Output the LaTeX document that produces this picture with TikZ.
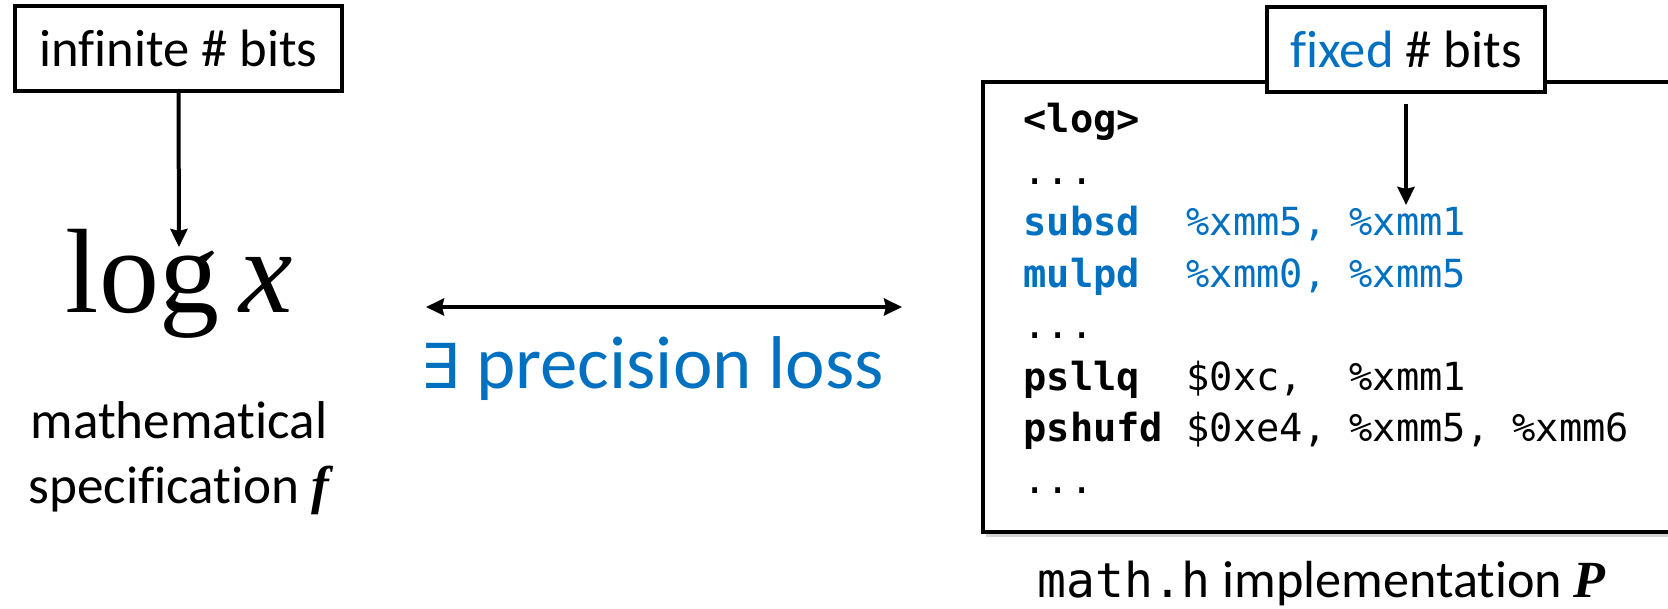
\documentclass[tikz,border=0pt]{standalone}
\usepackage{fontspec}
\setmainfont[Ligatures=NoCommon]{Carlito}
\newfontfamily\codefont{DejaVu Sans Mono}
\newfontfamily\logfont{Liberation Serif}
\newfontfamily\symbolfont{DejaVu Sans}
\usetikzlibrary{arrows.meta,positioning,shadows}
\definecolor{asmblue}{RGB}{0,112,192}
\tikzset{
  bitsbox/.style={draw, line width=1.6pt, fill=white, inner sep=0pt, minimum height=42.5pt, font=\fontsize{26.3}{30}\selectfont},
  codebox/.style={draw, line width=1.8pt, fill=white, drop shadow={shadow xshift=1.5pt, shadow yshift=-2.5pt, opacity=0.35}},
  arr/.style={line width=2pt, -{Stealth[length=9pt,width=8.5pt,inset=1pt]}}
}
\begin{document}
\begin{tikzpicture}[x=0.5pt,y=-0.5pt]
\useasboundingbox (0,0) rectangle (1668,609);
\clip (0,0) rectangle (1668,609);
% left: the mathematical side
\node[bitsbox, minimum width=163.5pt] (inf) at (178.5,48.5) {infinite \# bits};
\node[inner sep=0pt, anchor=base, font=\logfont\fontsize{60}{60}\selectfont] (logx) at (179,312) {log\,\textit{x}};
\node[anchor=base, align=center, inner sep=0pt, font=\fontsize{26.6}{32.5}\selectfont] (spec) at (179,503) {mathematical\\specification {\logfont\bfseries\itshape f}};
\coordinate (logtop) at (179,247);
\draw[arr] (inf.south) -- (logtop);
% middle
\coordinate (pl) at (426,307);
\coordinate (pr) at (902,307);
\draw[line width=2pt, {Stealth[length=9pt,width=8.5pt,inset=1pt]}-{Stealth[length=9pt,width=8.5pt,inset=1pt]}] (pl) -- (pr);
\node[anchor=base, inner sep=0pt, text=asmblue, font=\fontsize{37.4}{40}\selectfont] (loss) at (652,388) {{\symbolfont\fontsize{31}{40}\selectfont ∃} precision loss};
% right: the implementation
\node[codebox, anchor=north west, minimum width=360pt, minimum height=225pt] (impl) at (981,80) {};
\node[bitsbox, minimum width=139pt] (fixed) at (1406,49.5) {\textcolor{asmblue}{fixed} \# bits};
\coordinate (hit) at (1406,205);
\draw[arr] ([yshift=-5pt]fixed.south) -- (hit);
\node[anchor=base west, align=left, inner sep=0pt, font=\codefont\fontsize{19.35}{25.75}\selectfont] (asm) at (1023,493)
  {\textbf{<log>}\\
   ...\\
   \textcolor{asmblue}{\textbf{subsd}~~\%xmm5,~\%xmm1}\\
   \textcolor{asmblue}{\textbf{mulpd}~~\%xmm0,~\%xmm5}\\
   ...\\
   \textbf{psllq}~~\$0xc,~~\%xmm1\\
   \textbf{pshufd}~\$0xe4,~\%xmm5,~\%xmm6\\
   ...};
\node[anchor=base west, inner sep=0pt, font=\fontsize{26.1}{30}\selectfont] (cap) at (1037,597)
  {{\codefont\fontsize{24}{30}\selectfont math.h} implementation {\logfont\bfseries\itshape P}};
\end{tikzpicture}
\end{document}
